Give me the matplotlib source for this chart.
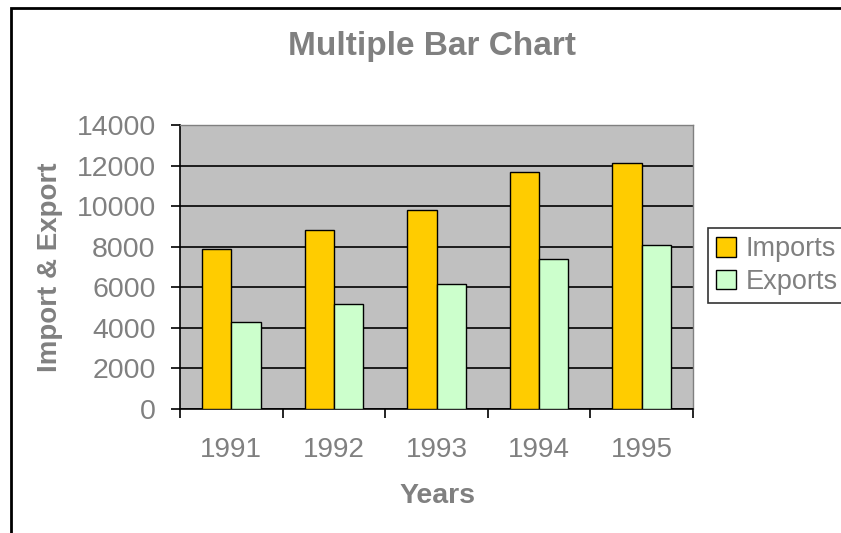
import matplotlib
matplotlib.use("Agg")
import matplotlib.pyplot as plt
import numpy as np
from matplotlib.patches import Rectangle

years = ["1991", "1992", "1993", "1994", "1995"]
imports = [7900, 8800, 9800, 11700, 12150]
exports = [4300, 5200, 6150, 7400, 8100]

GREY = "#808080"
plt.rcParams["font.family"] = ["Liberation Sans", "DejaVu Sans"]

W, H = 841, 533
fig = plt.figure(figsize=(W / 100, H / 100), dpi=100)

# outer chart border (cut off at right/bottom)
fig.patches.append(Rectangle((11 / W, -0.1), 1.2, 1 - 8 / H + 0.1, transform=fig.transFigure,
                             fill=False, edgecolor="black", linewidth=2))

ax = fig.add_axes([180 / W, 1 - 409 / H, (693 - 180) / W, (409 - 125) / H])
ax.set_facecolor("#C0C0C0")

x = np.arange(len(years))
w = 0.285
ax.bar(x - w / 2, imports, w, color="#FFCC00", edgecolor="black", linewidth=1, label="Imports", zorder=3)
ax.bar(x + w / 2, exports, w, color="#CCFFCC", edgecolor="black", linewidth=1, label="Exports", zorder=3)

ax.set_xlim(-0.5, len(years) - 0.5)
ax.set_ylim(0, 14000)
ax.set_yticks(range(0, 14001, 2000))
ax.yaxis.grid(True, color="black", linewidth=1.2, zorder=1)
ax.set_axisbelow(True)

ax.set_xticks(x)
ax.set_xticklabels(years)
ax.set_xticks(np.arange(-0.5, len(years)), minor=True)
ax.tick_params(axis="x", which="major", length=0, pad=20, labelsize=20, labelcolor=GREY)
ax.tick_params(axis="x", which="minor", length=6.5, width=1.2, color="black")
ax.tick_params(axis="y", length=6.5, width=1.2, pad=11, labelsize=20.5, labelcolor=GREY)

for s in ["left", "bottom"]:
    ax.spines[s].set_color("black")
    ax.spines[s].set_linewidth(1.2)
for s in ["top", "right"]:
    ax.spines[s].set_color(GREY)
    ax.spines[s].set_linewidth(1)

fig.text(432 / W, 1 - 46 / H, "Multiple Bar Chart", ha="center", va="center",
         fontsize=24, fontweight="bold", color=GREY)
fig.text(437 / W, 1 - 496 / H, "Years", ha="center", va="center",
         fontsize=20.5, fontweight="bold", color=GREY)
fig.text(50 / W, 1 - 267 / H, "Import & Export", ha="center", va="center", rotation=90,
         fontsize=20, fontweight="bold", color=GREY)

leg = ax.legend(loc="upper left", bbox_to_anchor=(708 / W, 1 - 228 / H, 200 / W, 0),
                bbox_transform=fig.transFigure, mode="expand",
                frameon=True, fancybox=False, fontsize=19.5, labelcolor=GREY, borderaxespad=0,
                handlelength=0.75, handleheight=0.75, handletextpad=0.35, borderpad=0.3,
                labelspacing=0.25)
leg.get_frame().set_edgecolor("black")
leg.get_frame().set_linewidth(1.2)

fig.savefig("out.png", dpi=100)
